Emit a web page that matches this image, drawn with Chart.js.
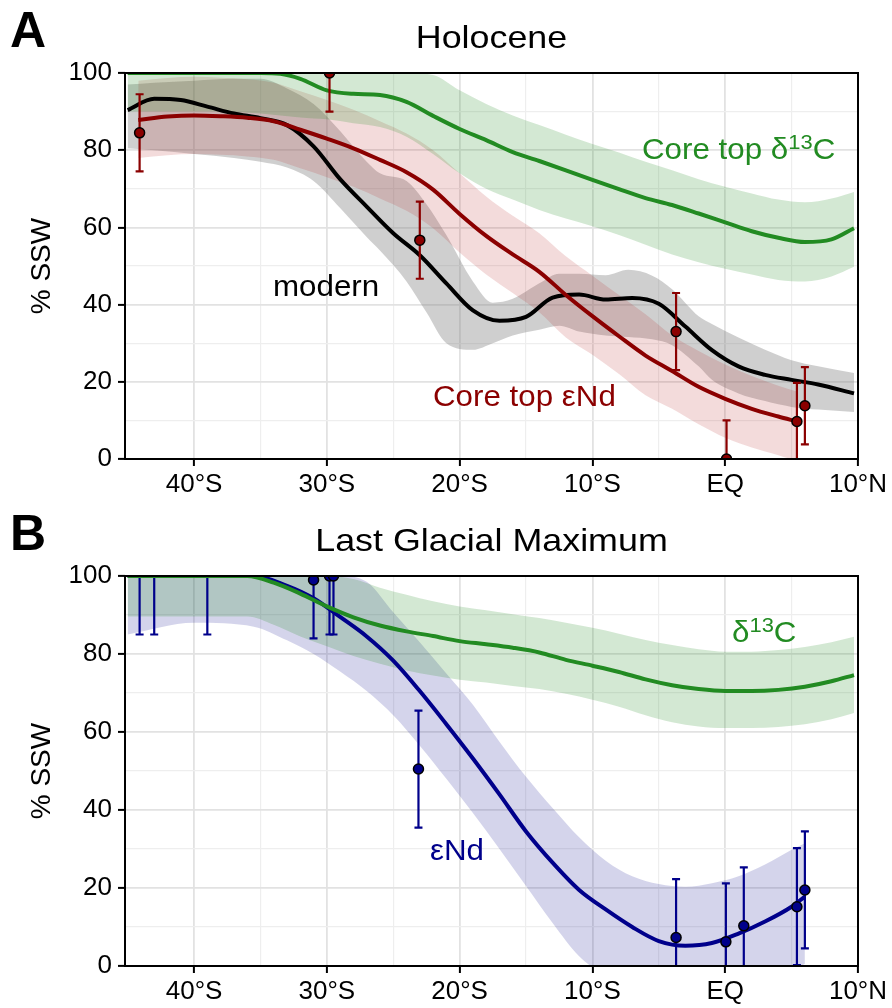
<!DOCTYPE html>
<html>
<head>
<meta charset="utf-8">
<script src="https://cdn.jsdelivr.net/npm/chart.js@4.4.1/dist/chart.umd.min.js"></script>
<style>
  html, body { margin: 0; padding: 0; background: #fff; }
  #wrap { position: relative; width: 892px; height: 1008px; overflow: hidden; }
  canvas { position: absolute; left: 0; }
  .t { position: absolute; white-space: nowrap; line-height: 1; font-family: "Liberation Sans", Arial, sans-serif; transform-origin: 0 0; transform: scaleX(1.08); }
  .t sup { font-size: 0.7em; line-height: 0; vertical-align: 0.5em; }
  .panel { font-weight: bold; font-size: 50px; transform: none; }
  .title { font-size: 32px; left: 125px; width: 733px; text-align: center; transform-origin: 50% 0; transform: scaleX(1.12); }
  .ylab { font-size: 28px; transform-origin: 50% 50%; transform: translate(-50%, -50%) rotate(-90deg); }
  .ann { font-size: 29px; }
</style>
</head>
<body>
<div id="wrap">
  <canvas id="chartA" width="892" height="504" style="top:0;width:892px;height:504px"></canvas>
  <canvas id="chartB" width="892" height="504" style="top:504px;width:892px;height:504px"></canvas>

  <div class="t panel" style="left:10px;top:5px">A</div>
  <div class="t title" style="top:21px">Holocene</div>
  <div class="t ylab" style="left:41px;top:266px">% SSW</div>
  <div class="t ann" style="left:642px;top:135px;color:#228B22">Core top δ<sup>13</sup>C</div>
  <div class="t ann" style="left:273px;top:272px;color:#000">modern</div>
  <div class="t ann" style="left:433px;top:382px;color:#8B0000">Core top εNd</div>

  <div class="t panel" style="left:10px;top:508px">B</div>
  <div class="t title" style="top:524px">Last Glacial Maximum</div>
  <div class="t ylab" style="left:41px;top:771px">% SSW</div>
  <div class="t ann" style="left:732px;top:618px;color:#228B22">δ<sup>13</sup>C</div>
  <div class="t ann" style="left:430px;top:836px;color:#00008B">εNd</div>
</div>
<script>
// ---- axes ----
const latTicks = [-40, -35, -30, -25, -20, -15, -10, -5, 0, 5, 10];
const pctTicks = [0, 10, 20, 30, 40, 50, 60, 70, 80, 90, 100];

// ---- Panel A: Holocene ----
// core top d13C fit
const latDeltaA = [-45, -40, -35, -33.5, -32, -30, -28, -26, -24, -22, -20, -18, -16, -14, -12, -10, -8, -6, -4, -2, 0, 2, 4, 6, 8, 9.7];
const deltaA   = [100, 100, 100, 99.8, 98.5, 95.5, 94.6, 94.3, 92.5, 88.9, 85.5, 82.6, 79.5, 77.2, 74.8, 72.3, 69.9, 67.6, 65.8, 63.6, 61.3, 59, 57.3, 56.2, 56.9, 59.8];
const deltaHiA = [100, 100, 100, 100, 100, 100, 100, 100, 100, 99.5, 95.5, 92, 89, 86.5, 84, 81.6, 79.4, 77, 74.8, 72.5, 70.5, 68.8, 67.2, 66.5, 67.5, 69.2];
const deltaLoA = [90, 90, 89.5, 89, 88.5, 88, 87, 86, 83.5, 79, 74, 70, 67.2, 64.5, 62.3, 60.3, 58, 55.5, 53, 51, 49.3, 47.8, 46.4, 46, 47.3, 49.8];

// modern
const latModernA = [-45, -43, -41, -39, -37, -35, -33, -31, -29, -27, -25, -23, -21, -19, -17, -15, -13, -11, -9, -7, -5, -3, -1, 1, 3, 5, 7, 9.7];
const modernA    = [90.4, 93.3, 93, 91.3, 89.5, 88.3, 86.5, 81, 72.5, 65.4, 58.5, 52.8, 45.5, 38.5, 35.8, 36.8, 41.8, 42.6, 41.3, 41.7, 40.2, 34.3, 28.2, 24, 21.8, 20.5, 19.3, 17];
const latModernBand = [-45, -43, -40, -37, -35, -33, -31, -29, -27, -26, -24, -22.5, -21, -19, -17.5, -16, -14, -12.5, -11, -9, -7.3, -5.5, -4, -2, -1, 1, 3, 5, 7, 9.7];
const modernHiA = [97, 97.5, 98, 98.5, 98.5, 96, 92, 85, 77, 74, 72, 66, 58, 46, 40.5, 41.5, 45.5, 48, 48, 47.6, 49, 47.5, 44, 37, 35, 31.5, 28.3, 25.6, 24, 22.3];
const modernLoA = [80.5, 80, 79, 78, 77, 75.5, 72, 65, 57.5, 54, 46, 38, 30, 28.3, 30, 32, 33.5, 34.5, 33, 32, 31.6, 31, 29.5, 24, 20.5, 17, 15, 13.5, 12.8, 12.2];

// core top eNd fit
const latNdA = [-44.2, -42, -40, -38, -36, -34, -32, -30, -28, -26, -24, -22, -20, -18, -16, -14, -12, -10, -8, -6, -4, -2, 0, 2, 4, 5.4];
const ndA    = [87.8, 88.7, 89, 88.8, 88.4, 87.5, 85.3, 83, 80.5, 77.5, 74.3, 69.8, 63.5, 57.8, 53, 48.5, 42.5, 37, 31.8, 26.8, 22.8, 18.7, 15.6, 13, 11, 9.7];
const ndHiA  = [98, 98.7, 99, 98.8, 98.4, 97.5, 95.3, 93, 90.5, 87.5, 84.3, 80, 74, 68, 63, 58.5, 52.5, 47.5, 42.5, 37.5, 32, 28, 24.5, 21.5, 19, 17.5];
const ndLoA  = [78, 78.7, 79, 78.8, 78.4, 77.5, 75.3, 73, 70.5, 67.5, 64.3, 59.8, 53.5, 47.8, 43, 38, 31.5, 27, 22, 16.5, 13, 9, 5.5, 3, 1, -0.5];

// core top eNd samples
const coreLatA = [-44.1, -29.8, -23.0, -3.7, 0.1, 5.4, 6.0];
const corePctA = [84.5, 100, 56.7, 33, 0, 9.7, 13.8];
const coreErrA = [10, 10, 10, 10, 10, 10, 10];

// ---- Panel B: Last Glacial Maximum ----
const latDeltaB = [-45, -40, -36, -34, -32, -30, -28, -26, -24, -22, -20, -18, -16, -14, -12, -10, -8, -6, -4, -2, 0, 2, 4, 6, 8, 9.7];
const deltaB   = [100, 100, 100, 98.3, 95.5, 92.2, 89.4, 87.3, 85.8, 84.6, 83.3, 82.5, 81.6, 80.4, 78.5, 77, 75.4, 73.5, 72, 71, 70.5, 70.5, 70.8, 71.6, 73, 74.6];
const deltaHiB = [100, 100, 100, 100, 100, 100, 99.2, 97, 95.2, 93.5, 92.2, 91.2, 90.2, 89.2, 88, 86.7, 85.2, 83.6, 82.3, 81.2, 80.6, 80.6, 81, 81.8, 83, 84.4];
const deltaLoB = [89.6, 89.6, 89.6, 87.5, 84.5, 82, 79.5, 77.5, 75.8, 74.5, 73.4, 72.7, 71.8, 71, 69.8, 68.3, 66.5, 64.3, 62.5, 61.4, 61, 61, 61.3, 62, 63.3, 64.9];

const latNdB = [-45, -40, -35.5, -33, -31, -29, -27, -25, -23, -21, -19, -17, -15, -13, -11, -9, -7, -5, -3, -1, 1, 3, 5, 6];
const ndB    = [100, 100, 100, 97.5, 94.3, 89.5, 84.5, 78.3, 70.5, 62, 53.2, 44, 34.5, 26.5, 19.5, 14.5, 10, 6.4, 5.2, 5.9, 8.3, 11.4, 15.2, 17.8];
const ndHiB  = [100, 100, 100, 100, 100, 100, 98.5, 90.7, 83, 75, 67, 57.5, 48.5, 40.5, 33, 27, 23, 21, 20.3, 21.2, 23, 26, 29.8, 31.5];
const ndLoB  = [85, 88, 87, 83.5, 80, 75.5, 70.5, 64.3, 56.5, 48, 39.2, 30, 20.5, 11, 2.5, -2.5, -5.5, -8, -9, -8.5, -6.5, -3.5, -1, 0.5];

// LGM eNd samples (the three southernmost sit just above the panel top)
const coreLatB = [-44.1, -43.0, -39.0, -31.0, -29.8, -29.5, -23.1, -3.7, 0.05, 1.4, 5.4, 6.0];
const corePctB = [101.5, 101.5, 101.5, 99, 100, 100, 50.5, 7.3, 6.2, 10.3, 15.2, 19.5];
const coreErrB = [16.5, 16.5, 16.5, 15, 15, 15, 15, 15, 15, 15, 15, 15];

// ---- colours ----
const GREEN = "#228B22";
const DARKRED = "#8B0000";
const NAVY = "#00008B";

Chart.defaults.font.family = '"Liberation Sans", Arial, sans-serif';
Chart.defaults.color = "#000";

function pts(xs, ys) {
  return xs.map((x, i) => ({ x: x, y: ys[i] }));
}

function curve(xs, ys, color, order) {
  return {
    data: pts(xs, ys),
    borderColor: color,
    borderWidth: 4,
    pointRadius: 0,
    fill: false,
    cubicInterpolationMode: "monotone",
    order: order,
  };
}

// two datasets: upper edge (invisible) + lower edge filled to it
function band(xs, hi, lo, color, order) {
  const base = { borderWidth: 0, pointRadius: 0, cubicInterpolationMode: "monotone", order: order };
  return [
    Object.assign({ data: pts(xs, hi), fill: false }, base),
    Object.assign({ data: pts(xs, lo), fill: "-1", backgroundColor: color }, base),
  ];
}

function samples(xs, ys, errs, color, order) {
  return {
    data: pts(xs, ys),
    errors: errs,
    errorColor: color,
    showLine: false,
    pointRadius: 5,
    pointBackgroundColor: color,
    pointBorderColor: "#000",
    pointBorderWidth: 1.5,
    order: order,
  };
}

// error bars, drawn just under the sample points
const errorBars = {
  id: "errorBars",
  beforeDatasetDraw(chart, args) {
    const ds = chart.data.datasets[args.index];
    if (!ds.errors) return;
    const xs = chart.scales.x, ys = chart.scales.y, a = chart.chartArea;
    const ctx = chart.ctx;
    ctx.save();
    ctx.beginPath();
    ctx.rect(a.left, a.top, a.right - a.left, a.bottom - a.top);
    ctx.clip();
    ctx.strokeStyle = ds.errorColor;
    ctx.lineWidth = 2.2;
    ds.data.forEach((p, i) => {
      const px = xs.getPixelForValue(p.x);
      const lo = ys.getPixelForValue(p.y - ds.errors[i]);
      const hi = ys.getPixelForValue(p.y + ds.errors[i]);
      ctx.beginPath();
      ctx.moveTo(px, lo); ctx.lineTo(px, hi);
      ctx.moveTo(px - 4, lo); ctx.lineTo(px + 4, lo);
      ctx.moveTo(px - 4, hi); ctx.lineTo(px + 4, hi);
      ctx.stroke();
    });
    ctx.restore();
  },
};

// black panel border
const frame = {
  id: "frame",
  afterDatasetsDraw(chart) {
    const a = chart.chartArea, ctx = chart.ctx;
    ctx.save();
    ctx.strokeStyle = "#000";
    ctx.lineWidth = 2;
    ctx.strokeRect(a.left, a.top, a.right - a.left, a.bottom - a.top);
    ctx.restore();
  },
};

function latLabel(v) {
  if (v % 10 !== 0) return "";
  if (v === 0) return "EQ";
  return v < 0 ? -v + "°S" : v + "°N";
}

function makePanel(id, datasets, padTop, xAxisHeight) {
  return new Chart(document.getElementById(id), {
    type: "line",
    data: { datasets: datasets },
    plugins: [errorBars, frame],
    options: {
      responsive: false,
      animation: false,
      events: [],
      layout: { padding: { top: padTop, right: 34, left: 0, bottom: 0 } },
      plugins: { legend: { display: false }, tooltip: { enabled: false } },
      scales: {
        x: {
          type: "linear",
          min: -45.2,
          max: 10,
          afterBuildTicks: (s) => { s.ticks = latTicks.map((v) => ({ value: v })); },
          afterFit: (s) => { s.height = xAxisHeight; },
          border: { display: false },
          grid: {
            color: (c) => (c.tick && c.tick.value % 10 === 0 ? "#e2e2e2" : "#eeeeee"),
            lineWidth: (c) => (c.tick && c.tick.value % 10 === 0 ? 1.8 : 1.2),
            tickColor: (c) => (c.tick && c.tick.value % 10 === 0 ? "#000" : "rgba(0,0,0,0)"),
            tickWidth: 2,
            tickLength: 7,
          },
          ticks: {
            autoSkip: false,
            maxRotation: 0,
            padding: 3,
            font: { size: 26 },
            color: "#000",
            callback: (v) => latLabel(v),
          },
        },
        y: {
          min: 0,
          max: 100,
          afterBuildTicks: (s) => { s.ticks = pctTicks.map((v) => ({ value: v })); },
          afterFit: (s) => { s.width = 125; },
          border: { display: false },
          grid: {
            color: (c) => (c.tick && c.tick.value % 20 === 0 ? "#e2e2e2" : "#eeeeee"),
            lineWidth: (c) => (c.tick && c.tick.value % 20 === 0 ? 1.8 : 1.2),
            tickColor: (c) => (c.tick && c.tick.value % 20 === 0 ? "#000" : "rgba(0,0,0,0)"),
            tickWidth: 2,
            tickLength: 7,
          },
          ticks: {
            autoSkip: false,
            padding: 6,
            font: { size: 26 },
            color: "#000",
            callback: (v) => (v % 20 === 0 ? String(v) : ""),
          },
        },
      },
    },
  });
}

// Panel A
makePanel("chartA", [
  samples(coreLatA, corePctA, coreErrA, DARKRED, 0),
  curve(latDeltaA, deltaA, GREEN, 1),
  curve(latNdA, ndA, DARKRED, 2),
  curve(latModernA, modernA, "#000", 3),
  ...band(latModernBand, modernHiA, modernLoA, "rgba(128,128,128,0.38)", 12),
  ...band(latNdA, ndHiA, ndLoA, "rgba(178,34,34,0.16)", 11),
  ...band(latDeltaA, deltaHiA, deltaLoA, "rgba(34,139,34,0.2)", 10),
], 73, 45);

// Panel B
makePanel("chartB", [
  curve(latDeltaB, deltaB, GREEN, 0),
  samples(coreLatB, corePctB, coreErrB, NAVY, 1),
  curve(latNdB, ndB, NAVY, 2),
  ...band(latNdB, ndHiB, ndLoB, "rgba(0,0,139,0.17)", 11),
  ...band(latDeltaB, deltaHiB, deltaLoB, "rgba(34,139,34,0.2)", 10),
], 72, 42);
</script>
</body>
</html>
